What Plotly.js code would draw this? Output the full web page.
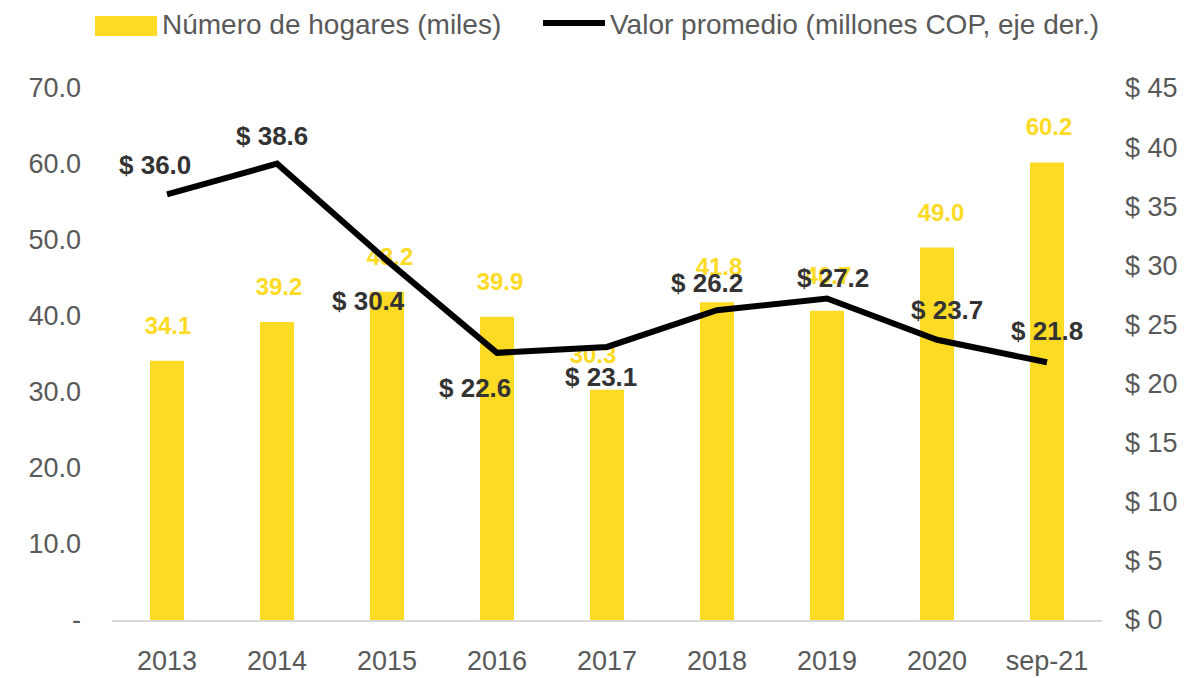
<!DOCTYPE html>
<html>
<head>
<meta charset="utf-8">
<script src="https://cdn.plot.ly/plotly-3.0.1.min.js"></script>
<style>
  html, body { margin: 0; padding: 0; background: #fff; }
  #chart { width: 1198px; height: 678px; }
</style>
</head>
<body>
<div id="chart"></div>
<script>
// Data
const categories = ['2013', '2014', '2015', '2016', '2017', '2018', '2019', '2020', 'sep-21'];
const hogares = [34.1, 39.2, 43.2, 39.9, 30.3, 41.8, 40.7, 49.0, 60.2];     // miles
const valorPromedio = [36.0, 38.6, 30.4, 22.6, 23.1, 26.2, 27.2, 23.7, 21.8]; // millones COP

const leftTicks = [0, 10, 20, 30, 40, 50, 60, 70];
const rightTicks = [0, 5, 10, 15, 20, 25, 30, 35, 40, 45];

const yellow = '#FDDA24';
const font = 'Arial, "Liberation Sans", sans-serif';

// label placement around the line points (px), as in the source
const lineLabelDx = [-12, -5, -19, -22, -6, -10, 6, 10, 0];
const lineLabelDy = [29, 28, -40, -35, -30, 27, 20, 30, 31];
// small sideways nudges of the yellow labels (px)
const barLabelDx = [1, 2, 3, 3, -14, 2, 1, 4, 2];

// plot box in px, used for the hand made legend and label offsets
const plotTop = 88, plotBottom = 620, plotLeft = 112, plotRight = 96;
const pxPerUnit = (plotBottom - plotTop) / 70;
const pxPerCat = (1198 - plotLeft - plotRight) / categories.length;
const labelLift = 33 / pxPerUnit;

// numeric positions for the categories, labelled with tickvals/ticktext
const xpos = categories.map((c, i) => i);

const barTrace = {
    x: xpos,
    y: hogares,
    type: 'bar',
    name: 'Número de hogares (miles)',
    marker: { color: yellow },
    showlegend: false
};

// yellow value labels, drawn under the line
const barLabels = {
    x: xpos.map((p, i) => p + barLabelDx[i] / pxPerCat),
    y: hogares.map(v => v + labelLift),
    type: 'scatter',
    mode: 'text',
    text: hogares.map(v => v.toFixed(1)),
    textposition: 'middle center',
    textfont: { family: font, size: 24, color: yellow, weight: 'bold' },
    hoverinfo: 'skip',
    showlegend: false
};

const lineTrace = {
    x: xpos,
    y: valorPromedio,
    yaxis: 'y2',
    type: 'scatter',
    mode: 'lines',
    name: 'Valor promedio (millones COP, eje der.)',
    line: { color: '#000000', width: 6 },
    showlegend: false
};

const annotations = valorPromedio.map((v, i) => ({
    x: xpos[i],
    y: v,
    xref: 'x',
    yref: 'y2',
    text: '$ ' + v.toFixed(1),
    showarrow: false,
    xshift: lineLabelDx[i],
    yshift: lineLabelDy[i],
    font: { family: font, size: 26, color: '#333333', weight: 'bold' }
}));

// legend, drawn by hand to get the long yellow swatch
const plotW = 1198 - plotLeft - plotRight;
const plotH = plotBottom - plotTop;
const px = x => (x - plotLeft) / plotW;
const py = y => (plotBottom - y) / plotH;

annotations.push({
    xref: 'paper', yref: 'paper', x: px(160), y: py(24),
    xanchor: 'left', yanchor: 'middle', showarrow: false,
    text: 'Número de hogares (miles)',
    font: { family: font, size: 28, color: '#595959' }
});
annotations.push({
    xref: 'paper', yref: 'paper', x: px(608), y: py(24),
    xanchor: 'left', yanchor: 'middle', showarrow: false,
    text: 'Valor promedio (millones COP, eje der.)',
    font: { family: font, size: 28, color: '#595959' }
});

const shapes = [
    { type: 'rect', xref: 'paper', yref: 'paper',
      x0: px(95), x1: px(157), y0: py(36), y1: py(16),
      fillcolor: yellow, line: { width: 0 } },
    { type: 'line', xref: 'paper', yref: 'paper',
      x0: px(543), x1: px(605), y0: py(23), y1: py(23),
      line: { color: '#000000', width: 6 } }
];

const layout = {
    width: 1198,
    height: 678,
    margin: { l: plotLeft, r: plotRight, t: plotTop, b: 678 - plotBottom },
    paper_bgcolor: '#ffffff',
    plot_bgcolor: '#ffffff',
    font: { family: font, size: 27, color: '#595959' },
    bargap: 0.69,
    showlegend: false,
    xaxis: {
        range: [-0.5, categories.length - 0.5],
        tickvals: xpos,
        ticktext: categories,
        showgrid: false,
        zeroline: false,
        showline: true,
        linecolor: '#d9d9d9',
        linewidth: 2,
        ticks: '',
        ticklabelstandoff: 16,
        tickfont: { family: font, size: 27, color: '#595959' }
    },
    yaxis: {
        range: [0, 70],
        showgrid: false,
        zeroline: false,
        tickvals: leftTicks,
        ticktext: leftTicks.map(v => v === 0 ? '-' : v.toFixed(1)),
        ticks: '',
        ticklabelstandoff: 30,
        tickfont: { family: font, size: 27, color: '#595959' }
    },
    yaxis2: {
        range: [0, 45],
        overlaying: 'y',
        side: 'right',
        showgrid: false,
        zeroline: false,
        tickvals: rightTicks,
        ticktext: rightTicks.map(v => '$ ' + v),
        ticks: '',
        ticklabelstandoff: 22,
        tickfont: { family: font, size: 27, color: '#595959' }
    },
    annotations: annotations,
    shapes: shapes
};

Plotly.newPlot('chart', [barTrace, barLabels, lineTrace], layout, { displayModeBar: false, staticPlot: true });
</script>
</body>
</html>
